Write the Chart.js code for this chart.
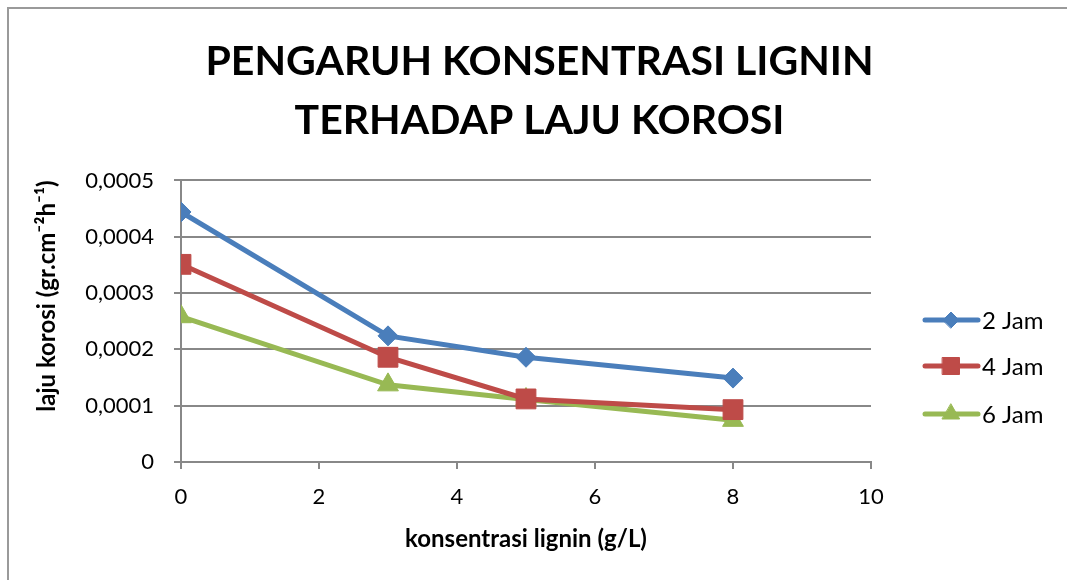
<!DOCTYPE html>
<html>
<head>
<meta charset="utf-8">
<script src="https://cdn.jsdelivr.net/npm/chart.js@4"></script>
<style>
  html, body { margin: 0; padding: 0; background: #fff; }
  #wrap { position: relative; width: 1067px; height: 580px; overflow: hidden; }
  #frame { position: absolute; left: 7px; top: 7px; width: 1100px; height: 620px;
           border-left: 2px solid #9a9a9a; border-top: 2px solid #9a9a9a; box-sizing: border-box; }
  #korosiChart { position: absolute; left: 0; top: 0; }
</style>
</head>
<body>
<div id="wrap">
  <div id="frame"></div>
  <canvas id="korosiChart" width="1067" height="580"></canvas>
</div>
<script>
// Data
const konsentrasi = [0, 3, 5, 8];
const jam2 = [0.000444, 0.000224, 0.000186, 0.000149];
const jam4 = [0.000351, 0.000186, 0.000112, 0.000093];
const jam6 = [0.000258, 0.000137, 0.000111, 0.000074];
const seriesNames = ["2 Jam", "4 Jam", "6 Jam"];
const yTicks = [0, 0.0001, 0.0002, 0.0003, 0.0004, 0.0005];

const colors = ["#4A7EBB", "#BE4B48", "#98B954"];
const markers = ["rectRot", "rect", "triangle"];
const markerSize = [10, 14, 12];
const legendMarkerSize = [8, 12, 10];
const font = "Lato, 'Open Sans', sans-serif";

function toPoints(values) {
    return konsentrasi.map((x, i) => ({ x: x, y: values[i] }));
}

// Legend drawn at the right, line + marker like Excel
const sideLegend = {
    id: "sideLegend",
    afterDraw(chart) {
        const ctx = chart.ctx;
        const rowY = [320, 366, 414];
        chart.data.datasets.forEach((ds, i) => {
            const y = rowY[i];
            ctx.save();
            ctx.strokeStyle = ds.borderColor;
            ctx.lineWidth = 5;
            ctx.lineCap = "round";
            ctx.beginPath();
            ctx.moveTo(925, y);
            ctx.lineTo(978, y);
            ctx.stroke();
            ctx.fillStyle = ds.backgroundColor;
            ctx.lineWidth = 1;
            Chart.helpers.drawPoint(ctx, {
                pointStyle: ds.pointStyle,
                radius: legendMarkerSize[i],
                borderWidth: 1
            }, 951, y);
            ctx.fillStyle = "#000";
            ctx.font = "24px " + font;
            ctx.textBaseline = "middle";
            ctx.fillText(ds.label, 982, y + 1);
            ctx.restore();
        });
    }
};

const datasets = [jam2, jam4, jam6].map((vals, i) => ({
    label: seriesNames[i],
    data: toPoints(vals),
    borderColor: colors[i],
    backgroundColor: colors[i],
    borderWidth: 5,
    pointStyle: markers[i],
    pointRadius: markerSize[i],
    pointHoverRadius: markerSize[i],
    pointBackgroundColor: colors[i],
    pointBorderColor: colors[i],
    pointBorderWidth: 1,
    tension: 0
}));

new Chart(document.getElementById("korosiChart"), {
    type: "line",
    data: { datasets: datasets },
    plugins: [sideLegend],
    options: {
        responsive: false,
        animation: false,
        layout: { padding: { left: 12, right: 0, top: 0, bottom: 0 } },
        plugins: {
            legend: { display: false },
            tooltip: { enabled: false },
            title: {
                display: true,
                text: ["PENGARUH KONSENTRASI LIGNIN", "TERHADAP LAJU KOROSI"],
                color: "#000",
                font: { family: font, size: 41, weight: "bold", lineHeight: 1.42 },
                padding: { top: 33, bottom: 31 }
            }
        },
        scales: {
            x: {
                type: "linear",
                min: 0,
                max: 10,
                ticks: { stepSize: 2, color: "#000", font: { family: font, size: 22 }, padding: 15 },
                grid: { drawOnChartArea: false, drawTicks: true, tickLength: 7, color: "#888", lineWidth: 2 },
                border: { color: "#888", width: 2 },
                title: {
                    display: true,
                    text: "konsentrasi lignin (g/L)",
                    color: "#000",
                    font: { family: font, size: 24, weight: "bold" },
                    padding: { top: 4, bottom: 26 }
                },
                afterFit(scale) { scale.height = 580 - 462; }
            },
            y: {
                min: 0,
                max: 0.0005,
                afterBuildTicks(scale) { scale.ticks = yTicks.map(v => ({ value: v })); },
                ticks: {
                    color: "#000",
                    font: { family: font, size: 22 },
                    padding: 20,
                    callback: v => v === 0 ? "0" : (Math.round(v * 10000) / 10000).toFixed(4).replace(".", ",")
                },
                grid: { color: "#888", lineWidth: 2, tickLength: 7 },
                border: { color: "#888", width: 2 },
                title: {
                    display: true,
                    text: "laju korosi (gr.cm⁻²h⁻¹)",
                    align: "end",
                    color: "#000",
                    font: { family: font, size: 24, weight: "bold" },
                    padding: { top: 21, bottom: 0 }
                },
                afterFit(scale) { scale.width = 181 - 12; }
            },
            // empty box on the right that keeps room for the legend
            legendSpace: {
                type: "linear",
                position: "right",
                display: true,
                ticks: { display: false },
                grid: { display: false },
                border: { display: false },
                afterFit(scale) { scale.width = 1067 - 871; }
            }
        }
    }
});
</script>
</body>
</html>
